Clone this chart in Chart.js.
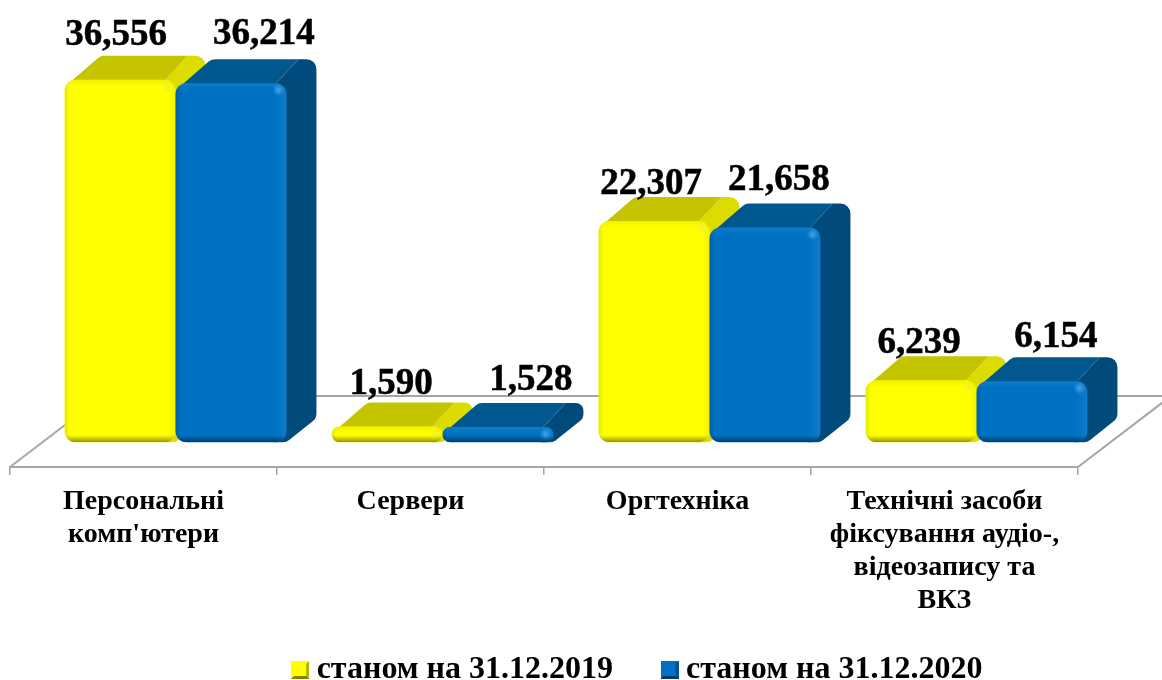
<!DOCTYPE html>
<html lang="uk">
<head>
<meta charset="utf-8">
<title>Техніка</title>
<script src="https://cdn.jsdelivr.net/npm/chart.js@4/dist/chart.umd.min.js"></script>
<style>
  html, body { margin: 0; padding: 0; background: #fff; }
  #wrap { width: 1162px; height: 680px; }
</style>
</head>
<body>
<div id="wrap"><canvas id="chart" width="1162" height="680"></canvas></div>
<script>
// Дані
const categories = [
  ["Персональні", "комп'ютери"],
  "Сервери",
  "Оргтехніка",
  ["Технічні засоби", "фіксування аудіо-,", "відеозапису та", "ВКЗ"],
];
const values2019 = [36.556, 1.59, 22.307, 6.239];
const values2020 = [36.214, 1.528, 21.658, 6.154];
const seriesNames = ["станом на 31.12.2019", "станом на 31.12.2020"];

// Підписи в оригіналі зсунуті вручну: [dx, dy] від центру верху стовпчика
const labelNudge2019 = [[-4, -44], [4, -42], [-3, -37], [-2, -37]];
const labelNudge2020 = [[33, -49], [33, -47], [14, -47], [24, -44]];

const FONT = "'Liberation Serif', 'Times New Roman', serif";
const AXIS = "#a6a6a6";
const DEPTH_X = 30; // глибина "3D" стовпчика
const DEPTH_Y = 24;
const SHIFT_X = 32; // стовпчики стоять посередині підлоги, а не на передньому краю
const FLOOR_X = 93;
const FLOOR_Y = 71;
const LEGEND_SHIFT_X = 97; // легенда в оригіналі правіше центру
const LEGEND_SHIFT_Y = 16;

const YELLOW = {
  front: "#ffff00", top: "#c4c400", side: "#dcdc00", iconRight: "#b4b400", iconBottom: "#808000",
  edgeDark: "rgba(110,110,0,0.75)", edgeSoft: "rgba(170,170,0,0.3)",
  edgeLight: "rgba(225,225,0,0.45)", glint: "rgba(235,235,60,0.7)",
};
const BLUE = {
  front: "#0070c0", top: "#00588f", side: "#004a7c", iconRight: "#00508c", iconBottom: "#003a66",
  edgeDark: "rgba(0,45,90,0.75)", edgeSoft: "rgba(0,60,120,0.3)",
  edgeLight: "rgba(30,135,215,0.5)", glint: "rgba(70,170,240,0.9)",
};

// Маленький скошений квадратик для легенди
function legendIcon(c) {
  const s = 18, b = 3;
  const cv = document.createElement("canvas");
  cv.width = cv.height = s;
  const g = cv.getContext("2d");
  const tri = (color, pts) => {
    g.fillStyle = color;
    g.beginPath();
    pts.forEach((p, i) => (i ? g.lineTo(p[0], p[1]) : g.moveTo(p[0], p[1])));
    g.closePath();
    g.fill();
  };
  g.fillStyle = c.front;
  g.fillRect(0, 0, s, s);
  tri(c.iconRight, [[s, 0], [s, s], [s - b, s - b], [s - b, b]]);
  tri(c.iconBottom, [[0, s], [s, s], [s - b, s - b], [b, s - b]]);
  return cv;
}

// pts: [x, y, радіус кута]
function roundedPoly(ctx, pts) {
  const n = pts.length;
  const last = pts[n - 1], first = pts[0];
  ctx.beginPath();
  ctx.moveTo((last[0] + first[0]) / 2, (last[1] + first[1]) / 2);
  for (let i = 0; i < n; i++) {
    const p = pts[i], q = pts[(i + 1) % n];
    ctx.arcTo(p[0], p[1], q[0], q[1], p[2]);
  }
  ctx.closePath();
}

function barBox(el) {
  const p = el.getProps(["x", "y", "base", "width"], true);
  return { x: p.x - p.width / 2, w: p.width, top: p.y, bottom: p.base };
}

function drawSides(ctx, box, c) {
  const { x, w, top, bottom } = box;
  const r = Math.min(10, (bottom - top) / 2);
  ctx.fillStyle = c.side;
  roundedPoly(ctx, [
    [x + w - 12, top + 2, 0], [x + w + 12, top - DEPTH_Y, 0], [x + w + DEPTH_X, top - DEPTH_Y, r],
    [x + w + DEPTH_X, bottom - DEPTH_Y, r], [x + w, bottom, r], [x + w - 12, bottom, 0],
  ]);
  ctx.fill();
  ctx.fillStyle = c.top;
  roundedPoly(ctx, [
    [x + 6, top + 2, 0], [x + 36, top - DEPTH_Y, 10], [x + w + 12, top - DEPTH_Y, 0], [x + w - 12, top + 2, 0],
  ]);
  ctx.fill();
}

function edge(ctx, x0, y0, x1, y1, color, rect) {
  const g = ctx.createLinearGradient(x0, y0, x1, y1);
  g.addColorStop(0, color);
  g.addColorStop(1, color.replace(/[\d.]+\)$/, "0)"));
  ctx.fillStyle = g;
  ctx.fillRect(rect[0], rect[1], rect[2], rect[3]);
}

function drawBevel(ctx, box, c) {
  const { x, w, top, bottom } = box;
  const h = bottom - top;
  const r = Math.min(11, h / 2);
  ctx.save();
  ctx.beginPath();
  ctx.roundRect(x, top, w, h, r);
  ctx.clip();
  const band = Math.min(7, h / 2);
  edge(ctx, x, top, x + 5, top, c.edgeSoft, [x, top, 5, h]);
  edge(ctx, x, top, x, top + band, c.edgeLight, [x, top, w, band]);
  const rightBand = c === BLUE ? 12 : 7;
  edge(ctx, x + w, top, x + w - rightBand, top, c.edgeLight, [x + w - rightBand, top, rightBand, h]);
  edge(ctx, x, bottom, x, bottom - band, c.edgeDark, [x, bottom - band, w, band]);
  const gx = x + w - 8, gy = top + Math.min(7, h / 2);
  const g = ctx.createRadialGradient(gx, gy, 0, gx, gy, 6);
  g.addColorStop(0, c.glint);
  g.addColorStop(1, c.glint.replace(/[\d.]+\)$/, "0)"));
  ctx.fillStyle = g;
  ctx.fillRect(gx - 6, gy - 6, 12, 12);
  ctx.restore();
}

const colorsBySeries = [YELLOW, BLUE];
const nudgesBySeries = [labelNudge2019, labelNudge2020];

const bars3d = {
  id: "bars3d",
  afterLayout(chart) {
    const lg = chart.legend;
    lg.left += LEGEND_SHIFT_X;
    lg.right += LEGEND_SHIFT_X;
    lg.top += LEGEND_SHIFT_Y;
    lg.bottom += LEGEND_SHIFT_Y;
    // чотири рядки останньої категорії не вміщаються в коробку осі й обрізаються
    chart.scales.x.bottom += 50;
  },
  // Малюємо самі: жовті під синіми, у звичайному порядку Chart.js було б навпаки
  beforeDatasetsDraw(chart) {
    const { ctx, scales } = chart;
    const sx = scales.x;
    const front = chart.chartArea.bottom;
    ctx.save();
    ctx.strokeStyle = AXIS;
    ctx.lineWidth = 2;
    ctx.beginPath();
    ctx.moveTo(sx.left, front);
    ctx.lineTo(sx.left + FLOOR_X, front - FLOOR_Y);
    ctx.lineTo(sx.right + FLOOR_X, front - FLOOR_Y);
    ctx.lineTo(sx.right, front);
    ctx.stroke();
    ctx.translate(SHIFT_X, 0);
    chart.data.datasets.forEach((ds, i) => {
      const meta = chart.getDatasetMeta(i);
      const c = colorsBySeries[i];
      meta.data.forEach((el) => drawSides(ctx, barBox(el), c));
      meta.controller.draw();
      meta.data.forEach((el) => drawBevel(ctx, barBox(el), c));
    });
    ctx.restore();
    return false;
  },
  afterDraw(chart) {
    const { ctx } = chart;
    ctx.save();
    ctx.font = "bold 37px " + FONT;
    ctx.fillStyle = "#000";
    ctx.strokeStyle = "#000";
    ctx.lineWidth = 0.5;
    ctx.textAlign = "center";
    ctx.textBaseline = "middle";
    chart.data.datasets.forEach((ds, i) => {
      chart.getDatasetMeta(i).data.forEach((el, j) => {
        const n = nudgesBySeries[i][j];
        const text = ds.data[j].toFixed(3).replace(".", ",");
        ctx.fillText(text, el.x + SHIFT_X + n[0], el.y + n[1]);
        ctx.strokeText(text, el.x + SHIFT_X + n[0], el.y + n[1]);
      });
    });
    ctx.restore();
  },
};

new Chart(document.getElementById("chart"), {
  type: "bar",
  data: {
    labels: categories,
    datasets: [
      { label: seriesNames[0], data: values2019, backgroundColor: YELLOW.front, pointStyle: legendIcon(YELLOW) },
      { label: seriesNames[1], data: values2020, backgroundColor: BLUE.front, pointStyle: legendIcon(BLUE) },
    ],
  },
  options: {
    responsive: false,
    animation: false,
    events: [],
    layout: { padding: { left: 10, right: 84, top: 0, bottom: 0 } },
    datasets: {
      bar: {
        categoryPercentage: 0.831,
        barPercentage: 1,
        borderRadius: 11,
        borderSkipped: false,
      },
    },
    scales: {
      x: {
        afterFit: (s) => { s.height = 115; },
        border: { color: AXIS, width: 2 },
        grid: { drawOnChartArea: false, color: AXIS, lineWidth: 1.5, tickLength: 8 },
        ticks: {
          color: "#000",
          padding: 10,
          autoSkip: false,
          maxRotation: 0,
          font: { family: FONT, weight: "bold", size: 28, lineHeight: 1.18 },
        },
      },
      // ось значень прихована; нижче нуля лишається смуга підлоги
      y: { display: false, min: -2.5, max: 44.6 },
    },
    plugins: {
      tooltip: { enabled: false },
      legend: {
        position: "bottom",
        labels: {
          usePointStyle: true,
          boxWidth: 1,
          padding: 56,
          color: "#000",
          font: { family: FONT, weight: "bold", size: 32, lineHeight: 1 },
        },
      },
    },
  },
  plugins: [bars3d],
});
</script>
</body>
</html>
